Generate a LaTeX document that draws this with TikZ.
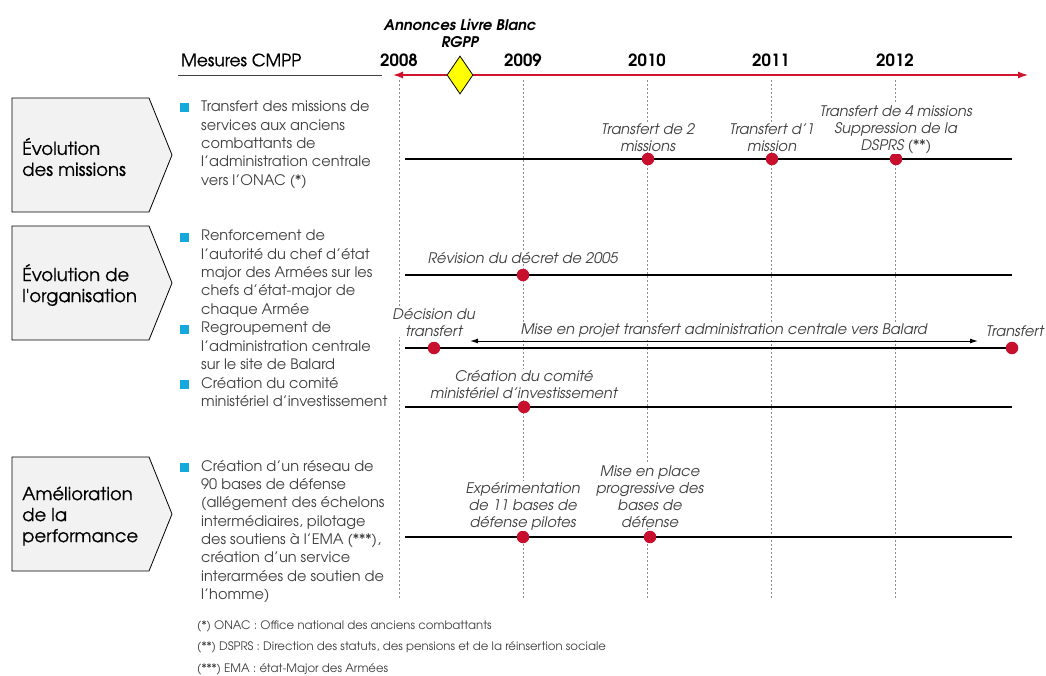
\documentclass[tikz,border=0pt]{standalone}
\usepackage{fontspec}
\setmainfont{TeX Gyre Adventor}
\newfontfamily\medfont[FakeBold=0.6]{TeX Gyre Adventor}
\usepackage{tikz}
\usetikzlibrary{arrows.meta,positioning,shapes.geometric}
\definecolor{tlred}{HTML}{D0142E}
\definecolor{dotred}{HTML}{C8102E}
\definecolor{bltblue}{HTML}{14A8DC}
\definecolor{ink}{HTML}{404040}
\definecolor{chevfill}{HTML}{F2F2F2}
\definecolor{gridgray}{HTML}{8C8C8C}
\definecolor{ylw}{HTML}{FFFF00}
\tikzset{
  axis/.style={draw=tlred, line width=1.3pt, arrows={Latex[length=10pt,width=7pt]-Latex[length=10pt,width=7pt]}},
  yrline/.style={draw=gridgray, line width=0.7pt, dash pattern=on 2pt off 2pt},
  track/.style={draw=black, line width=2.2pt},
  span/.style={draw=black, line width=1pt, arrows={Latex[length=8pt,width=5pt]-Latex[length=8pt,width=5pt]}},
  dot/.style={circle, fill=dotred, inner sep=0pt, minimum size=12.5pt},
  evt/.style={text=ink, font=\itshape\fontsize{14.6}{17}\selectfont, align=center, fill=white, inner sep=1pt},
  blt/.style={text=ink, font=\fontsize{14.5}{18.3}\selectfont, align=left, anchor=north west, inner sep=0pt},
  sq/.style={fill=bltblue, inner sep=0pt, minimum size=9pt},
  chev/.style={draw=black, fill=chevfill, line width=0.8pt, line join=miter},
  chevlab/.style={font=\medfont\fontsize{18}{21}\selectfont, align=left, anchor=west, inner sep=0pt},
  yr/.style={font=\bfseries\fontsize{16.8}{18}\selectfont},
  hdr/.style={font=\medfont\fontsize{17}{18}\selectfont, anchor=west, inner sep=0pt},
  ann/.style={font=\bfseries\itshape\fontsize{14.7}{17}\selectfont, align=center, inner sep=1pt},
  rgpp/.style={diamond, draw=black, fill=ylw, line width=0.8pt, inner sep=0pt, minimum width=26pt, minimum height=38pt},
  note/.style={text=ink, font=\fontsize{11.7}{12}\selectfont, anchor=west, inner sep=0pt},
}
\begin{document}
\begin{tikzpicture}[x=1pt,y=-1pt]
  \useasboundingbox (0,0) rectangle (1046,675);
  % header
  \node[hdr] (mes) at (181,60) {Mesures CMPP};
  \coordinate (u0) at (178,75);
  \coordinate (u1) at (382,75);
  \draw[draw=ink, line width=1pt] (u0) -- (u1);
  \foreach \yr/\xx in {2008/399,2009/523,2010/647,2011/771,2012/895}{
    \node[yr] (y\yr) at (\xx,60) {\yr};
    \coordinate (g\yr) at (\xx,80);
    \coordinate (h\yr) at (\xx,598);
    \draw[yrline] (g\yr) -- (h\yr);
  }
  \coordinate (ax0) at (393,75);
  \coordinate (ax1) at (1028,75);
  \draw[axis] (ax0) -- (ax1);
  \node[rgpp] (lb) at (460,75) {};
  \node[ann, above=7pt of lb] (lbtxt) {Annonces Livre Blanc\\RGPP};

  % chevrons
  \foreach \t/\b/\n/\lab in {98/212/c1/{Évolution\\des missions},
      226/340/c2/{Évolution de\\l'organisation},
      457/571/c3/{Amélioration\\de la\\performance}}{
    \draw[chev] (12,\t) -- (149,\t) -- (172,{(\t+\b)/2}) -- (149,\b) -- (12,\b) -- cycle;
    \node[chevlab] (\n) at (22,{(\t+\b)/2+2}) {\lab};
  }

  % bullets
  \node[sq] (q1) at (184.5,107.5) {};
  \node[blt] (b1) at (201,101) {Transfert des missions de\\services aux anciens\\combattants de\\l’administration centrale\\vers l’ONAC (*)};
  \node[sq] (q2) at (184.5,237.5) {};
  \node[blt] (b2) at (201,230) {Renforcement de\\l’autorité du chef d’état\\major des Armées sur les\\chefs d’état-major de\\chaque Armée};
  \node[sq] (q3) at (184.5,329.5) {};
  \node[blt] (b3) at (201,322) {Regroupement de\\l’administration centrale\\sur le site de Balard};
  \node[sq] (q4) at (184.5,384.5) {};
  \node[blt] (b4) at (201,377) {Création du comité\\ministériel d’investissement};
  \node[sq] (q5) at (184.5,467.5) {};
  \node[blt] (b5) at (201,460) {Création d’un réseau de\\90 bases de défense\\(allégement des échelons\\intermédiaires, pilotage\\des soutiens à l’EMA (***),\\création d’un service\\interarmées de soutien de\\l’homme)};

  % timelines
  \foreach \r/\yy in {1/159,2/275,3/348,4/407,5/537}{
    \coordinate (r\r-a) at (405,\yy);
    \coordinate (r\r-b) at (1012,\yy);
    \draw[track] (r\r-a) -- (r\r-b);
  }

  % row 1
  \node[dot] (d10) at (648,159) {};
  \node[dot] (d11) at (772,159) {};
  \node[dot] (d12) at (896,159) {};
  \node[evt, above=0pt of d10] (l10) {Transfert de 2\\missions};
  \node[evt, above=0pt of d11] (l11) {Transfert d’1\\mission};
  \node[evt, above=-2pt of d12] (l12) {Transfert de 4 missions\\Suppression de la\\DSPRS (**)};

  % row 2
  \node[dot] (d20) at (523,275) {};
  \node[evt, above=4pt of d20] (l20) {Révision du décret de 2005};

  % row 3
  \node[dot] (d30) at (434,348) {};
  \node[dot] (d31) at (1012,348) {};
  \node[evt, above=4pt of d30] (l30) {Décision du\\transfert};
  \node[evt, above=4pt of d31, xshift=3pt] (l31) {Transfert};
  \coordinate (m0) at (470,341);
  \coordinate (m1) at (978,341);
  \draw[span] (m0) -- node[evt, above=2pt] (mlab) {Mise en projet transfert administration centrale vers Balard} (m1);

  % row 4
  \node[dot] (d40) at (524,407) {};
  \node[evt, above=1pt of d40] (l40) {Création du comité\\ministériel d’investissement};

  % row 5
  \node[dot] (d50) at (523,537) {};
  \node[dot] (d51) at (650,537) {};
  \node[evt, above=-1pt of d50] (l50) {Expérimentation\\de 11 bases de\\défense pilotes};
  \node[evt, above=2pt of d51] (l51) {Mise en place\\progressive des\\bases de\\défense};

  % notes
  \node[note] (n1) at (197,626) {(*) ONAC : Office national des anciens combattants};
  \node[note] (n2) at (197,647) {(**) DSPRS : Direction des statuts, des pensions et de la réinsertion sociale};
  \node[note] (n3) at (197,669) {(***) EMA : état-Major des Armées};
\end{tikzpicture}
\end{document}
